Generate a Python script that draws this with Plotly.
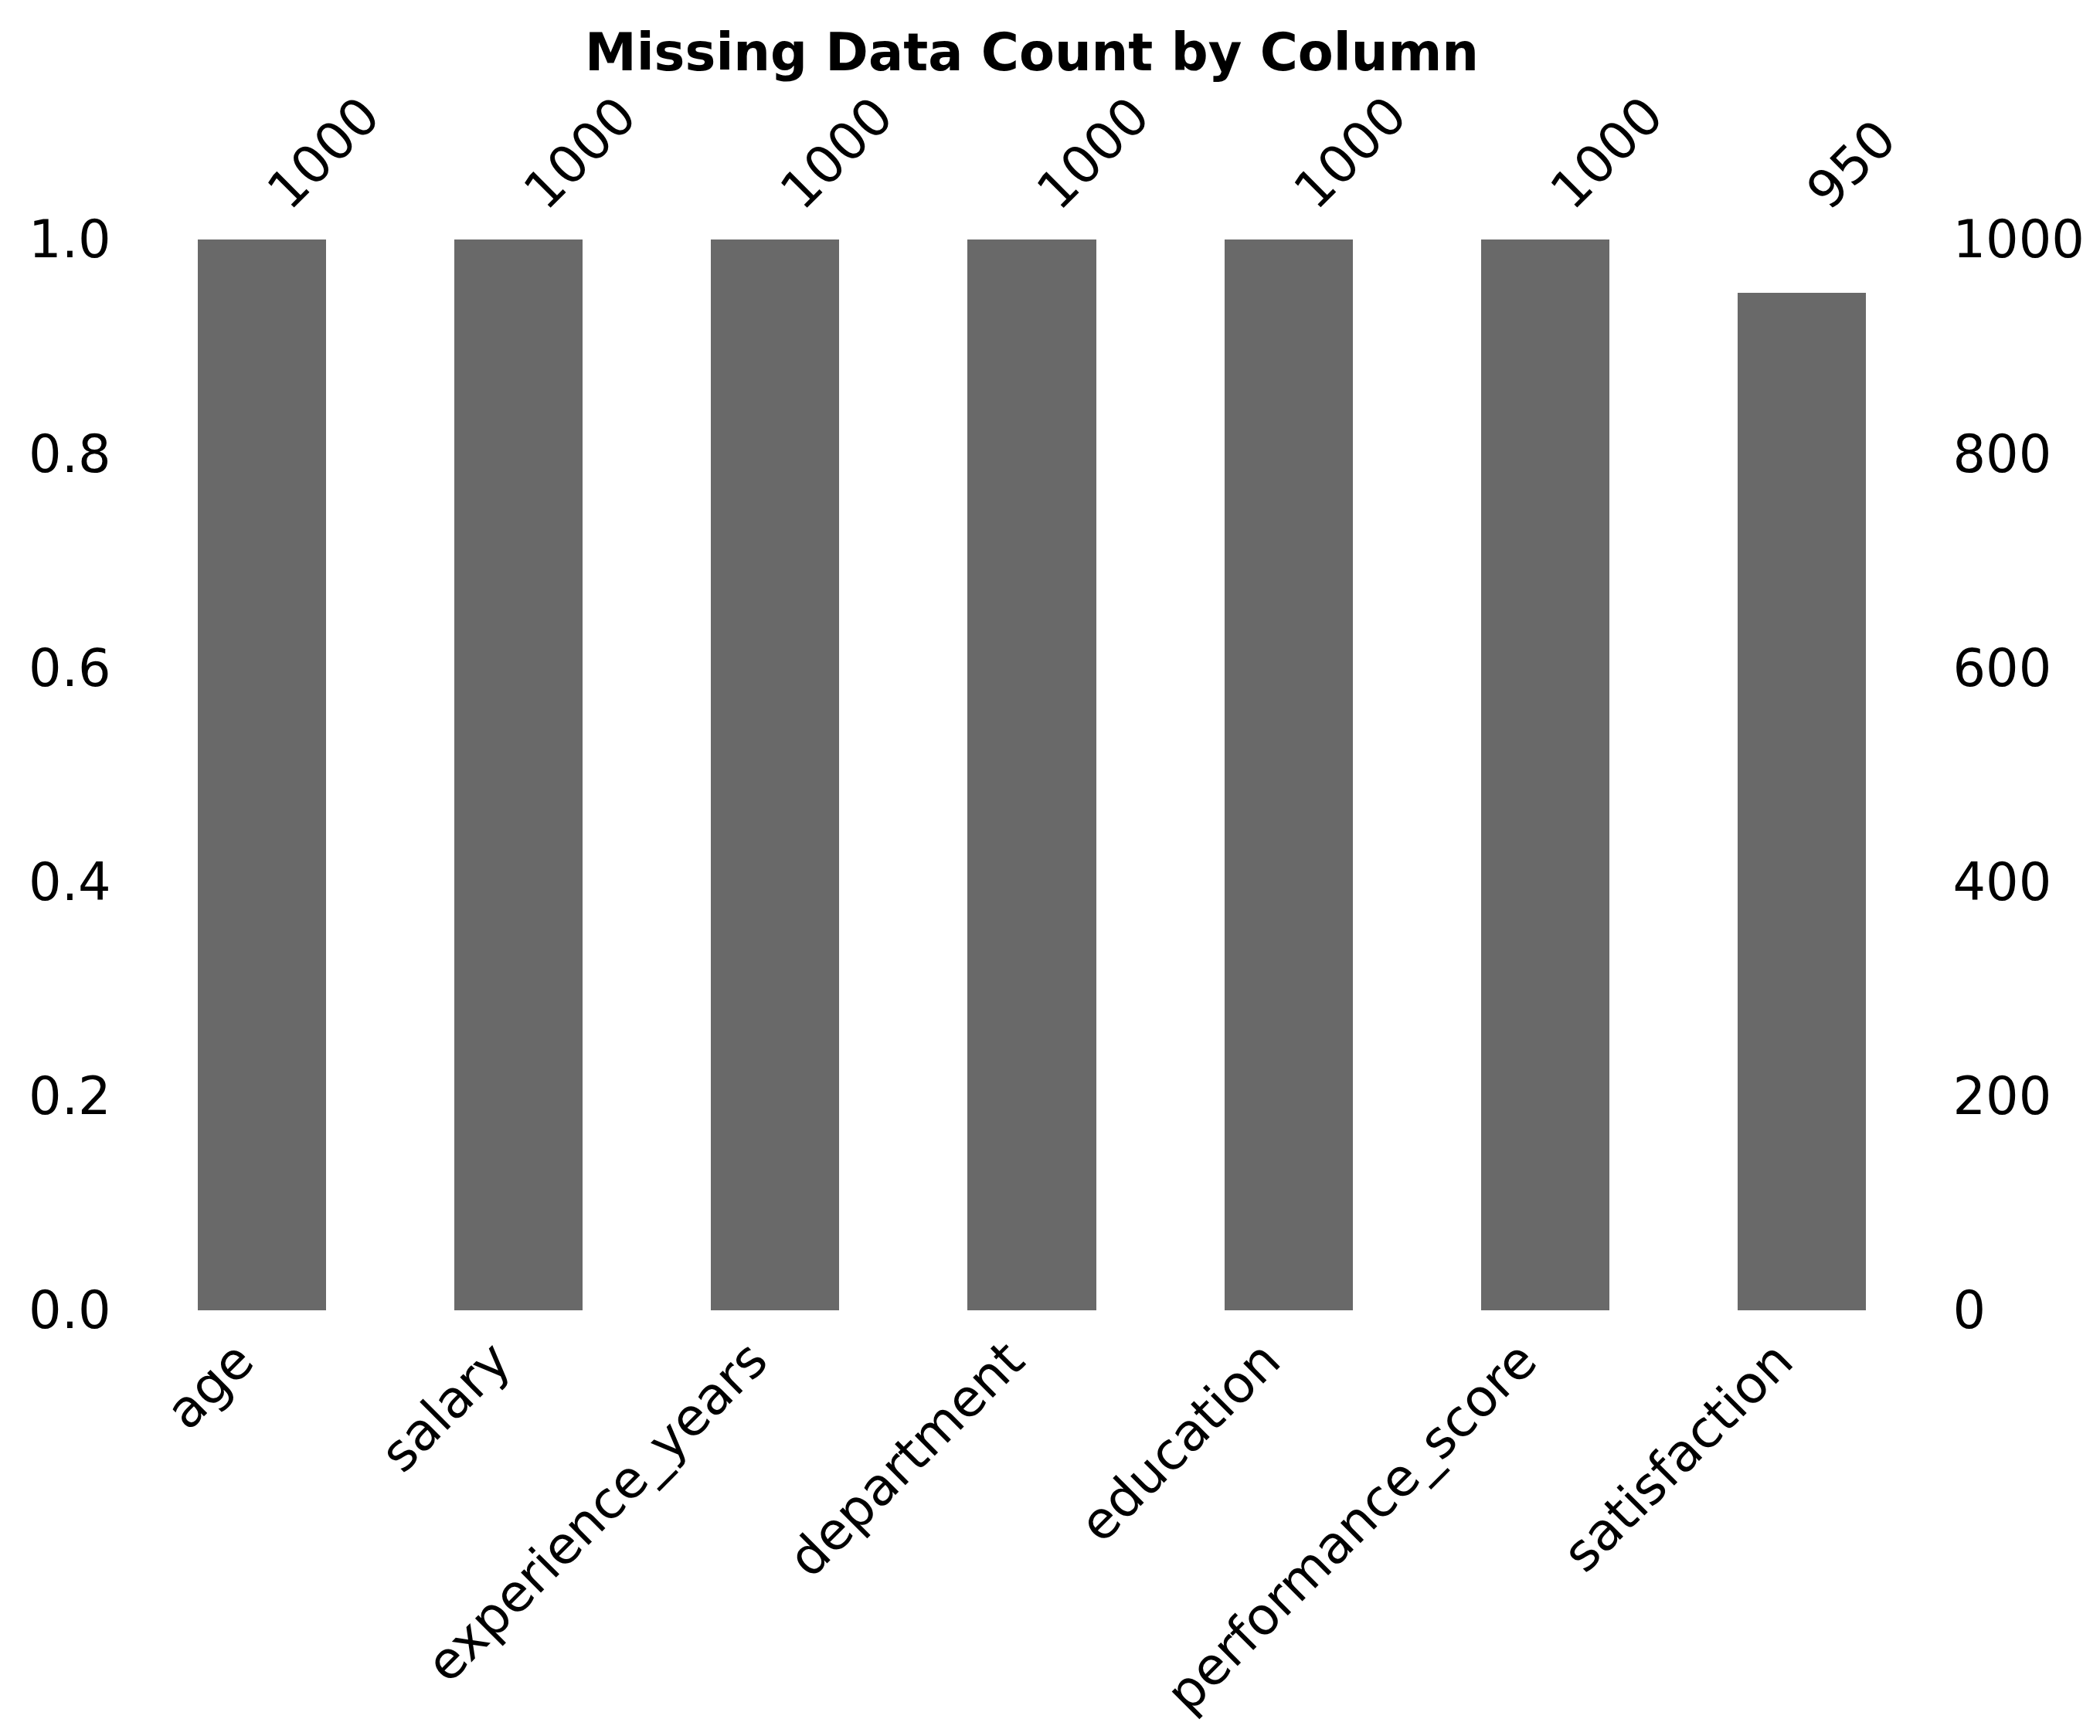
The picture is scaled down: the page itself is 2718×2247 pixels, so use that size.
import plotly.graph_objects as go

# ---- data ----
columns = ["age", "salary", "experience_years", "department", "education",
           "performance_score", "satisfaction"]
counts = [1000, 1000, 1000, 1000, 1000, 1000, 950]
total_rows = 1000
left_ticks = [0.0, 0.2, 0.4, 0.6, 0.8, 1.0]
right_ticks = [0, 200, 400, 600, 800, 1000]
title_text = "Missing Data Count by Column"

W, H = 2718, 2247
FONT = "DejaVu Sans"
FS = 67
BAR_COLOR = "#696969"

fractions = [c / total_rows for c in counts]
xs = list(range(len(columns)))

fig = go.Figure()
fig.add_trace(go.Bar(
    x=xs, y=fractions, width=0.5,
    marker=dict(color=BAR_COLOR, line=dict(width=0)),
    hoverinfo="skip", showlegend=False,
))
fig.add_trace(go.Scatter(
    x=xs, y=counts, yaxis="y2", mode="markers",
    marker=dict(opacity=0), hoverinfo="skip", showlegend=False,
))

annotations = []
for i, (name, c) in enumerate(zip(columns, counts)):
    annotations.append(dict(
        x=i, xref="x", y=1, yref="paper", text=str(c),
        textangle=-45, xanchor="left", yanchor="bottom",
        xshift=-10, yshift=23, showarrow=False, borderpad=0,
        font=dict(family=FONT, size=FS, color="black"),
    ))
    annotations.append(dict(
        x=i, xref="x", y=0, yref="paper", text=name,
        textangle=-45, xanchor="right", yanchor="top",
        xshift=6, yshift=-24, showarrow=False, borderpad=0,
        font=dict(family=FONT, size=FS, color="black"),
    ))

fig.update_layout(
    width=W, height=H,
    margin=dict(l=165, r=228, t=302, b=559, pad=0),
    paper_bgcolor="white", plot_bgcolor="white",
    font=dict(family=FONT, size=FS, color="black"),
    title=dict(text="<b>" + title_text + "</b>", x=0.5, xref="paper",
               y=1 - 36 / H, yref="container", yanchor="top",
               font=dict(family=FONT, size=FS, color="black")),
    xaxis=dict(range=[-0.5, len(columns) - 0.5], showticklabels=False,
               showgrid=False, zeroline=False, showline=False, ticks=""),
    yaxis=dict(range=[0, 1], tickvals=left_ticks,
               ticktext=[f"{v:.1f}" for v in left_ticks],
               showgrid=False, zeroline=False, showline=False,
               ticks="outside", ticklen=15, tickcolor="rgba(0,0,0,0)",
               tickfont=dict(family=FONT, size=FS, color="black")),
    yaxis2=dict(range=[0, total_rows], overlaying="y", side="right",
                tickvals=right_ticks, ticktext=[str(v) for v in right_ticks],
                showgrid=False, zeroline=False, showline=False,
                ticks="outside", ticklen=15, tickcolor="rgba(0,0,0,0)",
                tickfont=dict(family=FONT, size=FS, color="black")),
    annotations=annotations,
    bargap=0,
)

fig.write_html("out.html")
